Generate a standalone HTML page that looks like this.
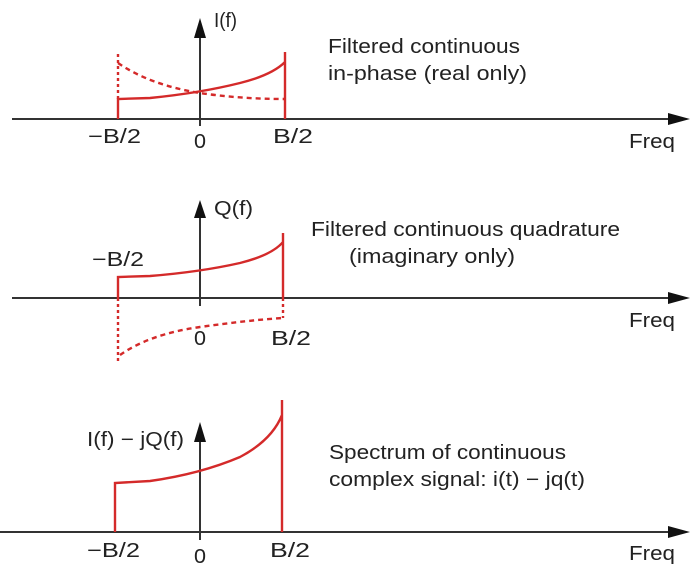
<!DOCTYPE html>
<html><head><meta charset="utf-8"><style>
html,body{margin:0;padding:0;background:#fff;}
svg{display:block;}
text{font-family:"Liberation Sans",sans-serif;fill:#222;font-size:20px;}
</style></head><body>
<svg width="694" height="584" viewBox="0 0 694 584">
<g stroke="#333" stroke-width="2" fill="none">
<line x1="12" y1="119" x2="672" y2="119"/>
<line x1="200" y1="35" x2="200" y2="126"/>
<line x1="12" y1="298" x2="672" y2="298"/>
<line x1="200" y1="215" x2="200" y2="306"/>
<line x1="0" y1="532" x2="672" y2="532"/>
<line x1="200" y1="438" x2="200" y2="540"/>
</g>
<g fill="#111">
<polygon points="668,113 690,119 668,125"/>
<polygon points="668,292 690,298 668,304"/>
<polygon points="668,526 690,532 668,538"/>
<polygon points="194,38 200,18 206,38"/>
<polygon points="194,218 200,200 206,218"/>
<polygon points="194,442 200,422 206,442"/>
</g>
<g stroke="#d42a2a" stroke-width="2.4" fill="none">
<path d="M118,119 L118,99 L150,98 Q200,93 240,83 Q272,75 285,62 M285,52 L285,119"/>
<path d="M118,99 L118,52" stroke-dasharray="3,3"/>
<path d="M118,63 Q150,85 200,93 Q240,99 285,99" stroke-dasharray="5,4"/>
<path d="M118,298 L118,277 L150,276 Q200,272 240,263 Q272,255 283,242 M283,233 L283,298"/>
<path d="M118,298 L118,364" stroke-dasharray="3,3"/>
<path d="M283,298 L283,318" stroke-dasharray="3,3"/>
<path d="M120,355 Q150,334 200,327 Q250,320 283,318" stroke-dasharray="5,4"/>
<path d="M115,532 L115,483 L150,481 Q200,474 240,457 Q272,440 282,415 M282,400 L282,532"/>
</g>
<text x="214" y="27" textLength="23" lengthAdjust="spacingAndGlyphs">I(f)</text>
<text x="328" y="53" textLength="192" lengthAdjust="spacingAndGlyphs">Filtered continuous</text>
<text x="328" y="80" textLength="199" lengthAdjust="spacingAndGlyphs">in-phase (real only)</text>
<text x="88" y="143" textLength="53" lengthAdjust="spacingAndGlyphs">−B/2</text>
<text x="194" y="148" textLength="12" lengthAdjust="spacingAndGlyphs">0</text>
<text x="273" y="143" textLength="40" lengthAdjust="spacingAndGlyphs">B/2</text>
<text x="629" y="148" textLength="46" lengthAdjust="spacingAndGlyphs">Freq</text>
<text x="214" y="215" textLength="39" lengthAdjust="spacingAndGlyphs">Q(f)</text>
<text x="311" y="236" textLength="309" lengthAdjust="spacingAndGlyphs">Filtered continuous quadrature</text>
<text x="349" y="263" textLength="166" lengthAdjust="spacingAndGlyphs">(imaginary only)</text>
<text x="92" y="266" textLength="52" lengthAdjust="spacingAndGlyphs">−B/2</text>
<text x="194" y="345" textLength="12" lengthAdjust="spacingAndGlyphs">0</text>
<text x="271" y="345" textLength="40" lengthAdjust="spacingAndGlyphs">B/2</text>
<text x="629" y="327" textLength="46" lengthAdjust="spacingAndGlyphs">Freq</text>
<text x="87" y="446" textLength="97" lengthAdjust="spacingAndGlyphs">I(f) − jQ(f)</text>
<text x="329" y="459" textLength="237" lengthAdjust="spacingAndGlyphs">Spectrum of continuous</text>
<text x="329" y="486" textLength="256" lengthAdjust="spacingAndGlyphs">complex signal: i(t) − jq(t)</text>
<text x="87" y="557" textLength="53" lengthAdjust="spacingAndGlyphs">−B/2</text>
<text x="194" y="563" textLength="12" lengthAdjust="spacingAndGlyphs">0</text>
<text x="270" y="557" textLength="40" lengthAdjust="spacingAndGlyphs">B/2</text>
<text x="629" y="560" textLength="46" lengthAdjust="spacingAndGlyphs">Freq</text>
</svg>
</body></html>
